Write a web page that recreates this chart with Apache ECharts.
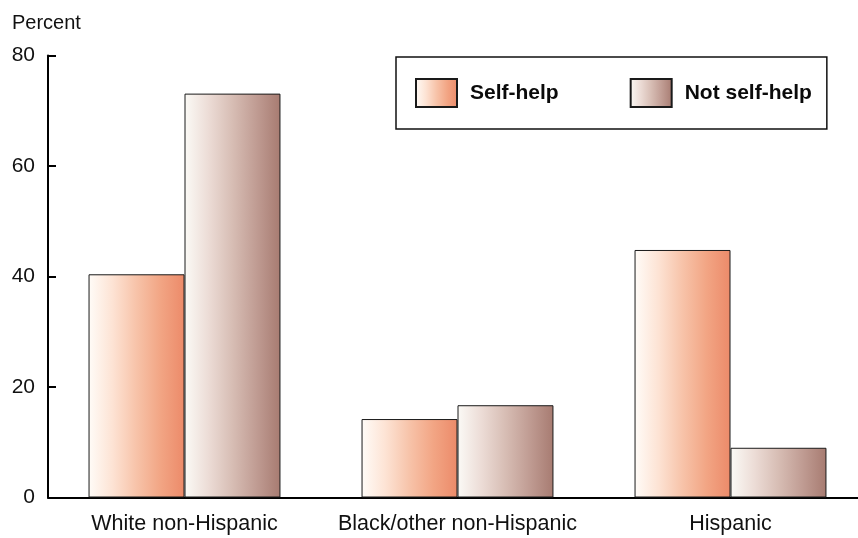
<!DOCTYPE html>
<html>
<head>
<meta charset="utf-8">
<script src="https://cdn.jsdelivr.net/npm/echarts@6/dist/echarts.min.js"></script>
<style>
  html, body { margin: 0; padding: 0; background: #fff; }
  #chart { width: 858px; height: 538px; }
</style>
</head>
<body>
<div id="chart"></div>
<script>
// Groups along the horizontal axis
const categories = ['White non-Hispanic', 'Black/other non-Hispanic', 'Hispanic'];
// Share of each group, in percent
const selfHelp = [40.4, 14.2, 44.8];
const notSelfHelp = [73.1, 16.7, 9.0];
const seriesNames = ['Self-help', 'Not self-help'];
const yTicks = [0, 20, 40, 60, 80];

const FONT = '"Liberation Sans", Arial, sans-serif';

function hGrad(stops) {
  return new echarts.graphic.LinearGradient(0, 0, 1, 0,
    stops.map((c, i) => ({ offset: i / (stops.length - 1), color: c })));
}

const chart = echarts.init(document.getElementById('chart'), null, { renderer: 'canvas' });

chart.setOption({
  animation: false,
  backgroundColor: '#ffffff',
  title: {
    text: 'Percent',
    left: 7,
    top: 8,
    textStyle: { fontFamily: FONT, fontSize: 20, fontWeight: 'normal', color: '#111' }
  },
  legend: {
    data: seriesNames,
    icon: 'rect',
    left: 396,
    top: 57,
    orient: 'horizontal',
    padding: [21, 15, 21, 19],
    itemWidth: 41,
    itemHeight: 28,
    itemGap: 71,
    borderColor: '#111',
    borderWidth: 1.5,
    textStyle: { fontFamily: FONT, fontSize: 21, fontWeight: 'bold', color: '#0a0a0a', padding: [0, 0, 0, 8] }
  },
  // the plot runs a little past the right edge, so the axis line reaches the border
  grid: { left: 48, top: 55.5, bottom: 40.5, width: 819, containLabel: false, outerBoundsMode: 'none' },
  xAxis: {
    type: 'category',
    data: categories,
    axisLine: { lineStyle: { color: '#000', width: 2 } },
    axisTick: { show: false },
    axisLabel: { interval: 0, fontFamily: FONT, fontSize: 21.5, color: '#111', margin: 16 },
    splitLine: { show: false }
  },
  yAxis: {
    type: 'value',
    min: yTicks[0],
    max: yTicks[yTicks.length - 1],
    interval: yTicks[1] - yTicks[0],
    axisLine: { show: true, lineStyle: { color: '#000', width: 2 } },
    axisTick: { show: true, inside: true, length: 8, lineStyle: { color: '#000', width: 2 } },
    axisLabel: { fontFamily: FONT, fontSize: 21, color: '#111', margin: 13 },
    splitLine: { show: false }
  },
  series: [
    {
      name: seriesNames[0],
      type: 'bar',
      data: selfHelp,
      barGap: '0%',
      barCategoryGap: '29.7%',
      itemStyle: {
        color: hGrad(['#fffcf8', '#fde3d4', '#f7c3a9', '#f2a584', '#ec8a69']),
        borderColor: '#1a1a1a',
        borderWidth: 1
      }
    },
    {
      name: seriesNames[1],
      type: 'bar',
      data: notSelfHelp,
      itemStyle: {
        color: hGrad(['#fbfaf6', '#ecdcd6', '#d7bdb4', '#c09c93', '#a77b71']),
        borderColor: '#1a1a1a',
        borderWidth: 1
      }
    }
  ]
});
</script>
</body>
</html>
